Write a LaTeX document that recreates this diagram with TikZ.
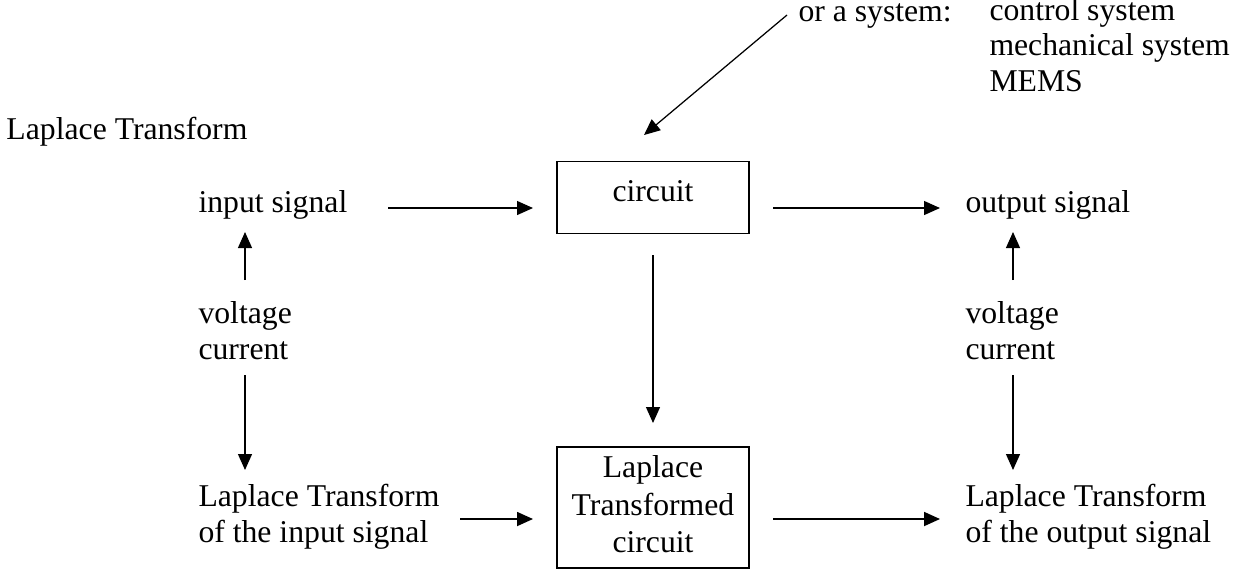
\documentclass[tikz,border=0pt]{standalone}
\usepackage{fontspec}
\setmainfont{Liberation Serif}
\usetikzlibrary{arrows.meta}
\begin{document}
\begin{tikzpicture}[x=0.4pt,y=-0.4pt,
  txt/.style={inner sep=0pt, anchor=base west, font=\fontsize{12.68pt}{14.4pt}\selectfont},
  ctxt/.style={txt, anchor=base},
  boxnode/.style={draw, line width=0.55pt, inner sep=0pt},
  arr/.style={-{Triangle[length=6.4pt,width=5.6pt]}, line width=0.5pt},
  arrb/.style={arr, line width=0.7pt}]
\useasboundingbox (0,0) rectangle (1233,569);
% texts
\node[txt] (title) at (6,139) {Laplace Transform};
\node[txt] (insig) at (198,212) {input signal};
\node[txt] (volL) at (198,323) {voltage};
\node[txt] (curL) at (198,359) {current};
\node[txt] (ltiA) at (198,506) {Laplace Transform};
\node[txt] (ltiB) at (198,542) {of the input signal};
\node[boxnode, minimum width=76.8pt, minimum height=28.8pt] (circ) at (653,197.5) {};
\node[ctxt] (circtxt) at (653,201) {circuit};
\node[boxnode, line width=0.6pt, minimum width=76.8pt, minimum height=48.4pt] (ltc) at (653,507.5) {};
\node[ctxt] (ltcA) at (653,477) {Laplace};
\node[ctxt] (ltcB) at (653,515) {Transformed};
\node[ctxt] (ltcC) at (653,552) {circuit};
\node[txt] (sysA) at (798,21) {or a system:};
\node[txt] (sysB) at (989,20) {control system};
\node[txt] (sysC) at (989,55) {mechanical system};
\node[txt] (sysD) at (989,91) {MEMS};
\node[txt] (outsig) at (965,212) {output signal};
\node[txt] (volR) at (965,323) {voltage};
\node[txt] (curR) at (965,359) {current};
\node[txt] (ltoA) at (965,506) {Laplace Transform};
\node[txt] (ltoB) at (965,542) {of the output signal};
% arrow end points
\coordinate (a1s) at (388,208);  \coordinate (a1e) at (533,208);
\coordinate (a2s) at (773,208);  \coordinate (a2e) at (940,208);
\coordinate (a3s) at (787,15);   \coordinate (a3e) at (644,135);
\coordinate (a4s) at (653,255);  \coordinate (a4e) at (653,423);
\coordinate (a5s) at (245,280);  \coordinate (a5e) at (245,232);
\coordinate (a6s) at (245,375);  \coordinate (a6e) at (245,470);
\coordinate (a7s) at (1013,280); \coordinate (a7e) at (1013,232);
\coordinate (a8s) at (1013,375); \coordinate (a8e) at (1013,470);
\coordinate (a9s) at (460,519);  \coordinate (a9e) at (533,519);
\coordinate (a10s) at (773,519); \coordinate (a10e) at (940,519);
% connectors
\draw[arr] (a1s) -- (a1e);
\draw[arr] (a2s) -- (a2e);
\draw[arr] (a3s) -- (a3e);
\draw[arr] (a4s) -- (a4e);
\draw[arr] (a5s) -- (a5e);
\draw[arr] (a6s) -- (a6e);
\draw[arr] (a7s) -- (a7e);
\draw[arr] (a8s) -- (a8e);
\draw[arrb] (a9s) -- (a9e);
\draw[arrb] (a10s) -- (a10e);
\end{tikzpicture}
\end{document}
